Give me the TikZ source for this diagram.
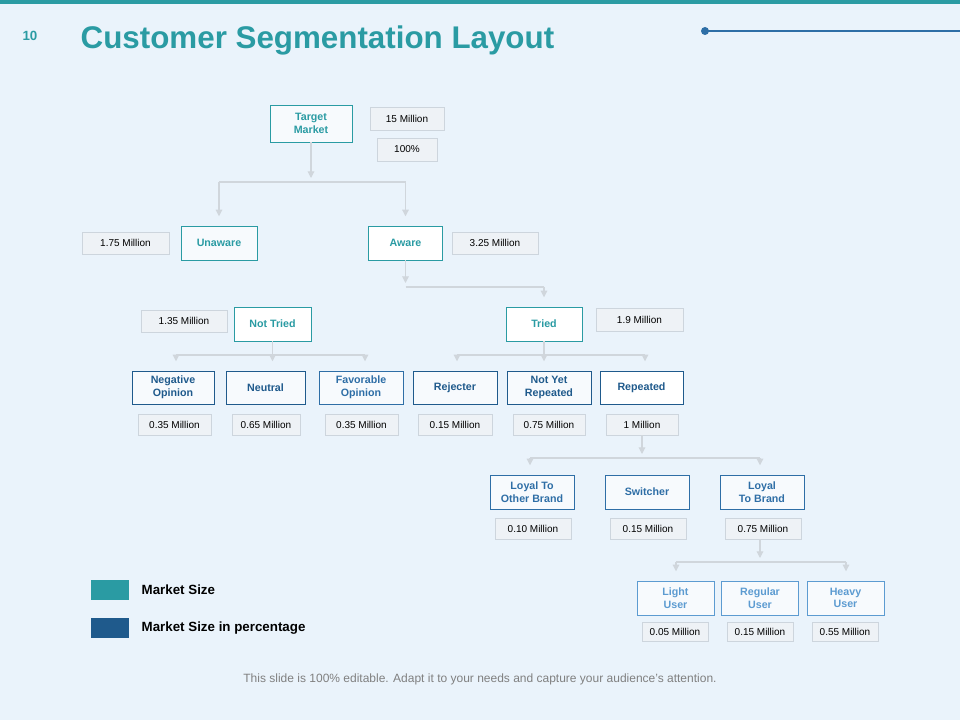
\documentclass[tikz,border=0pt]{standalone}
\usepackage{fontspec}
\setmainfont{Liberation Sans}
\usetikzlibrary{arrows.meta}
\definecolor{bg}{HTML}{EAF3FB}
\definecolor{teal}{HTML}{2A9BA3}
\definecolor{dblue}{HTML}{1F5A8C}
\definecolor{mblue}{HTML}{2E6EA6}
\definecolor{lblue}{HTML}{5C9BD1}
\definecolor{vfill}{HTML}{EEF2F6}
\definecolor{vdraw}{HTML}{CDD5DD}
\definecolor{conn}{HTML}{D0D6DC}
\begin{document}
\begin{tikzpicture}[x=0.75pt,y=-0.75pt,
  box/.style={draw=#1,fill=white!60!bg,text=#1,line width=0.6pt,align=center,inner sep=0pt,font=\fontsize{8}{9.5}\selectfont\bfseries},
  val/.style={draw=vdraw,fill=vfill,text=black,line width=0.5pt,inner sep=0pt,font=\fontsize{7.5}{9}\selectfont},
  arr/.style={draw=conn,line width=0.8pt,-{Triangle[width=5pt,length=5pt]}},
  ln/.style={draw=conn,line width=0.8pt}]
\fill[bg] (0,0) rectangle (960,720);
\useasboundingbox (0,0) rectangle (960,720);
\fill[teal] (0,0) rectangle (960,4);
\draw[mblue,line width=2pt] (705,31) -- (960,31);
\fill[mblue] (705,31) circle (4);
\node[text=teal,font=\fontsize{10}{12}\selectfont\bfseries] (num) at (30,36) {10};
\node[anchor=west,text=teal,font=\fontsize{23.5}{28}\selectfont\bfseries] (title) at (76,40) {Customer Segmentation Layout};
% level 1
\node[box=teal,minimum width=61.5pt,minimum height=27.75pt] (tm) at (311,123.5) {Target\\Market};
\node[val,minimum width=55.5pt,minimum height=17.25pt] (v15) at (407,118.5) {15 Million};
\node[val,minimum width=45pt,minimum height=17.25pt] (v100) at (407,149.5) {100\%};
% level 2
\node[box=teal,minimum width=57pt,minimum height=25.5pt] (un) at (219,243) {Unaware};
\node[box=teal,fill=white,minimum width=56pt,minimum height=25.5pt] (aw) at (405.5,243) {Aware};
\node[val,minimum width=65pt,minimum height=16.5pt] (v175) at (125.5,243) {1.75 Million};
\node[val,minimum width=64.5pt,minimum height=16.5pt] (v325) at (495,243) {3.25 Million};
% level 3
\node[box=teal,fill=white,minimum width=57.75pt,minimum height=25.5pt] (nt) at (272.5,324) {Not Tried};
\node[box=teal,fill=white,minimum width=57pt,minimum height=25.5pt] (tr) at (544,324) {Tried};
\node[val,minimum width=64.5pt,minimum height=16.5pt] (v135) at (184,321) {1.35 Million};
\node[val,minimum width=65pt,minimum height=17pt] (v19) at (639.5,319.5) {1.9 Million};
% level 4
\begin{scope}[every node/.append style={minimum height=24.75pt}]
\node[box=dblue,minimum width=61.5pt] (neg) at (173,387.5) {Negative\\Opinion};
\node[box=dblue,minimum width=59.25pt] (neu) at (265.5,387.5) {Neutral};
\node[box=mblue,minimum width=63pt] (fav) at (361,387.5) {Favorable\\Opinion};
\node[box=dblue,minimum width=63pt] (rej) at (455,387.5) {Rejecter};
\node[box=dblue,minimum width=63pt] (nyr) at (549,387.5) {Not Yet\\Repeated};
\node[box=dblue,fill=white,minimum width=62.25pt] (rep) at (641.5,387.5) {Repeated};
\end{scope}
\begin{scope}[every node/.append style={minimum height=15.75pt,font=\fontsize{6.5}{8}\selectfont}]
\node[val,minimum width=54.75pt] (vneg) at (174.5,424.5) {0.35 Million};
\node[val,minimum width=51pt] (vneu) at (266,424.5) {0.65 Million};
\node[val,minimum width=54.75pt] (vfav) at (361.5,424.5) {0.35 Million};
\node[val,minimum width=55.5pt] (vrej) at (455,424.5) {0.15 Million};
\node[val,minimum width=54pt] (vnyr) at (549,424.5) {0.75 Million};
\node[val,minimum width=54pt] (vrep) at (642,424.5) {1 Million};
\end{scope}
% level 5
\begin{scope}[every node/.append style={minimum height=25.5pt,minimum width=63pt}]
\node[box=mblue] (lob) at (532,492) {Loyal To\\Other Brand};
\node[box=mblue] (sw) at (647,492) {Switcher};
\node[box=mblue] (ltb) at (762,492) {Loyal\\To Brand};
\end{scope}
\begin{scope}[every node/.append style={minimum height=15.75pt,minimum width=57pt,font=\fontsize{6.5}{8}\selectfont}]
\node[val] (vlob) at (533,528.5) {0.10 Million};
\node[val] (vsw) at (648,528.5) {0.15 Million};
\node[val] (vltb) at (763,528.5) {0.75 Million};
\end{scope}
% level 6
\begin{scope}[every node/.append style={minimum height=25.5pt,minimum width=57.75pt,font=\fontsize{7}{8.5}\selectfont}]
\node[box=lblue] (lu) at (675.5,598) {Light\\User};
\node[box=lblue] (ru) at (760,598) {Regular\\User};
\node[box=lblue] (hu) at (845.5,598) {Heavy\\User};
\end{scope}
\begin{scope}[every node/.append style={minimum height=14.25pt,minimum width=49.5pt,font=\fontsize{5.5}{7}\selectfont}]
\node[val] (vlu) at (675,631.5) {0.05 Million};
\node[val] (vru) at (760,631.5) {0.15 Million};
\node[val] (vhu) at (845,631.5) {0.55 Million};
\end{scope}
% connectors
\tikzset{ca/.style={arr,shorten >=7pt}, pa/.style={arr,shorten >=3pt}}
\coordinate (b1) at (311,182); \coordinate (b1l) at (219,182); \coordinate (b1r) at (405.5,182);
\draw[pa] (tm.south) -- (b1);
\draw[ln] (b1l) -- (b1r);
\draw[ca] (b1l) -- (b1l |- un.north);
\draw[ca] (b1r) -- (b1r |- aw.north);
\coordinate (b2) at (405.5,287); \coordinate (b2r) at (544,287);
\draw[pa] (aw.south) -- (b2);
\draw[ln] (b2) -- (b2r);
\draw[ca] (b2r) -- (b2r |- tr.north);
\coordinate (b3l) at (176,355); \coordinate (b3r) at (365,355); \coordinate (b3) at (272.5,355);
\draw[ln] (nt.south) -- (b3); \draw[ln] (b3l) -- (b3r);
\draw[ca] (b3l) -- (b3l |- neg.north);
\draw[ca] (b3) -- (b3 |- neu.north);
\draw[ca] (b3r) -- (b3r |- fav.north);
\coordinate (b4l) at (457,355); \coordinate (b4r) at (645,355); \coordinate (b4) at (544,355);
\draw[ln] (tr.south) -- (b4); \draw[ln] (b4l) -- (b4r);
\draw[ca] (b4l) -- (b4l |- rej.north);
\draw[ca] (b4) -- (b4 |- nyr.north);
\draw[ca] (b4r) -- (b4r |- rep.north);
\coordinate (b5l) at (530,458); \coordinate (b5r) at (760,458); \coordinate (b5) at (642,458);
\draw[pa] (vrep.south) -- (b5);
\draw[ln] (b5l) -- (b5r);
\draw[ca] (b5l) -- (b5l |- lob.north);
\draw[ca] (b5r) -- (b5r |- ltb.north);
\coordinate (b6l) at (676,562); \coordinate (b6r) at (846,562); \coordinate (b6) at (760,562);
\draw[pa] (vltb.south -| b6) -- (b6);
\draw[ln] (b6l) -- (b6r);
\draw[ca] (b6l) -- (b6l |- lu.north);
\draw[ca] (b6r) -- (b6r |- hu.north);
% legend
\fill[teal] (91,580) rectangle (129,600);
\fill[dblue] (91,618) rectangle (129,638);
\node[anchor=west,font=\fontsize{10}{12}\selectfont\bfseries] (l1) at (137,590) {Market Size};
\node[anchor=west,font=\fontsize{10}{12}\selectfont\bfseries] (l2) at (137,628) {Market Size in percentage};
\node[text=gray,font=\fontsize{9}{11}\selectfont] (foot) at (480,679) {This slide is 100\% editable. Adapt it to your needs and capture your audience's attention.};
\end{tikzpicture}
\end{document}
